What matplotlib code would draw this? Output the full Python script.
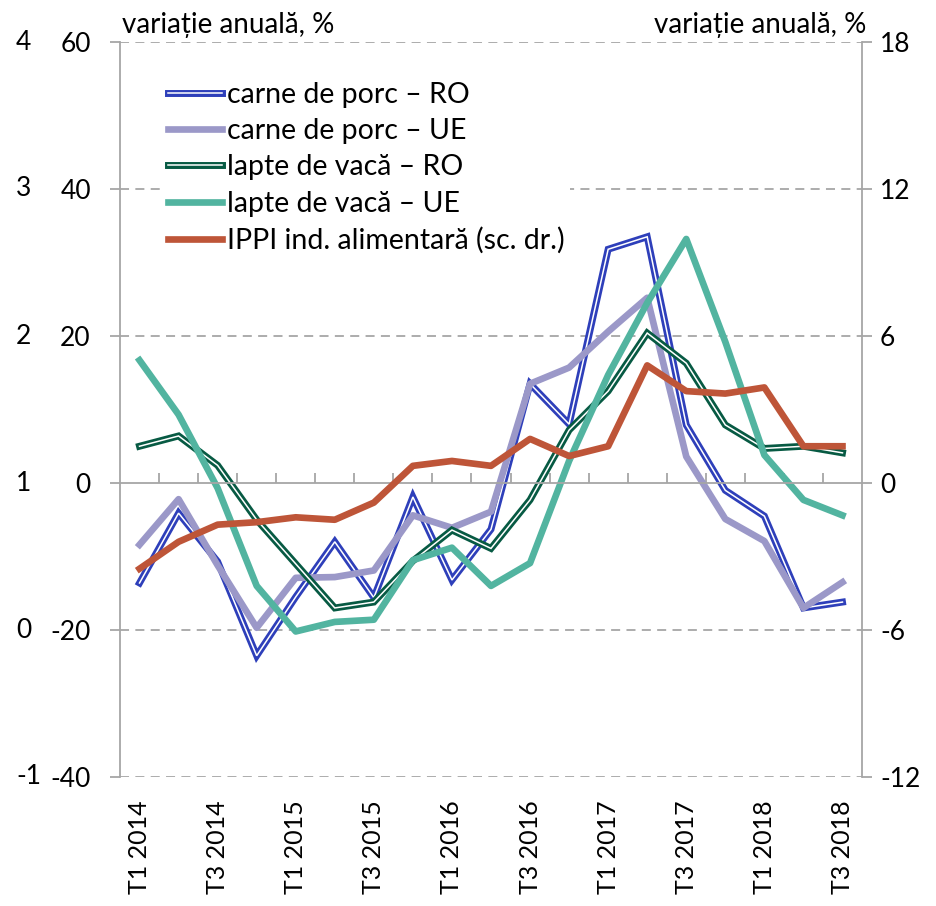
import numpy as np
import matplotlib
matplotlib.use("Agg")
import matplotlib.pyplot as plt
import matplotlib.patheffects as pe
import matplotlib.transforms as mtransforms

plt.rcParams['font.family'] = ['Lato', 'DejaVu Sans']

# Data (variatie anuala, %)
quarters = ['T1 2014', 'T2 2014', 'T3 2014', 'T4 2014',
            'T1 2015', 'T2 2015', 'T3 2015', 'T4 2015',
            'T1 2016', 'T2 2016', 'T3 2016', 'T4 2016',
            'T1 2017', 'T2 2017', 'T3 2017', 'T4 2017',
            'T1 2018', 'T2 2018', 'T3 2018']

porc_ro = [-13.6, -4.1, -10.7, -23.5, -15.5, -8.0, -15.6, -1.9, -13.2, -6.3,
           13.5, 8.0, 31.8, 33.5, 7.9, -1.0, -4.5, -17.0, -16.2]
porc_ue = [-8.4, -2.2, -11.2, -19.7, -12.9, -12.8, -11.9, -4.4, -6.1, -3.9,
           13.5, 15.7, 20.6, 25.2, 3.6, -4.9, -7.9, -17.0, -13.5]
lapte_ro = [5.0, 6.4, 2.4, -5.0, -11.0, -17.0, -16.2, -10.6, -6.4, -8.9,
            -2.3, 7.2, 12.5, 20.4, 16.3, 7.9, 4.7, 5.0, 4.1]
lapte_ue = [16.7, 9.3, -0.7, -14.0, -20.2, -18.9, -18.6, -10.5, -8.8, -14.0,
            -10.9, 3.0, 14.7, 24.5, 33.2, 19.2, 3.8, -2.3, -4.4]
ippi = [-3.5, -2.4, -1.7, -1.6, -1.4, -1.5, -0.8, 0.7, 0.9, 0.7,
        1.8, 1.1, 1.5, 4.8, 3.75, 3.65, 3.9, 1.5, 1.5]

labels = ['carne de porc – RO', 'carne de porc – UE', 'lapte de vacă – RO',
          'lapte de vacă – UE', 'IPPI ind. alimentară (sc. dr.)']
colors = ['#2E3FBA', '#9B98C8', '#075A43', '#52B4A0', '#BE5538']
left_ticks = [-40, -20, 0, 20, 40, 60]
right_ticks = [-12, -6, 0, 6, 12, 18]
phantom_ticks = [-1, 0, 1, 2, 3, 4]

x = np.arange(len(quarters))
grid_col = '#A6A6A6'

fig = plt.figure(figsize=(9.36, 9.06), dpi=100)
ax = fig.add_axes([120/936, 1-777/906, 742/936, 735/906])

# double lines for RO series
dbl = lambda c: [pe.Stroke(linewidth=5.0, foreground=c), pe.Normal()]
l1, = ax.plot(x, porc_ro, color='white', lw=1.1, path_effects=dbl(colors[0]),
              label=labels[0], solid_joinstyle='miter')
l2, = ax.plot(x, porc_ue, color=colors[1], lw=4.8, label=labels[1])
l3, = ax.plot(x, lapte_ro, color='white', lw=1.1, path_effects=dbl(colors[2]),
              label=labels[2], solid_joinstyle='miter')
l4, = ax.plot(x, lapte_ue, color=colors[3], lw=4.8, label=labels[3])

ax.set_xlim(-0.5, len(quarters) - 0.5)
ax.set_ylim(-40, 60)
ax.set_yticks(left_ticks)
ax.set_yticklabels(['-40', '-20', '0', '20', '40', '60'])
for v in left_ticks:
    if v != 0:
        ax.axhline(v, color=grid_col, lw=1.3, ls=(0, (5, 3.5)), zorder=0)

for s in ['top', 'right']:
    ax.spines[s].set_visible(False)
ax.spines['left'].set_color(grid_col)
ax.spines['left'].set_linewidth(1.3)
ax.spines['bottom'].set_position(('data', 0))
ax.spines['bottom'].set_color(grid_col)
ax.spines['bottom'].set_linewidth(1.3)
ax.set_xticks(np.arange(0.5, len(quarters) - 1, 1.0))
ax.tick_params(axis='x', direction='in', length=7, width=1.3, color=grid_col,
               labelbottom=False)
ax.tick_params(axis='y', direction='out', length=7, width=1.3, color=grid_col,
               labelsize=19, pad=14)

# category labels at bottom
sec = ax.secondary_xaxis('bottom')
sec.set_xticks(x[::2])
sec.set_xticklabels(quarters[::2], rotation=90, fontsize=18)
sec.tick_params(length=0, pad=17)
sec.spines['bottom'].set_visible(False)

# right axis
ax2 = ax.twinx()
ax2.set_ylim(-12, 18)
ax2.set_yticks(right_ticks)
ax2.set_yticklabels(['-12', '-6', '0', '6', '12', '18'])
l5, = ax2.plot(x, ippi, color=colors[4], lw=4.8, label=labels[4])
for s in ['top', 'left', 'bottom']:
    ax2.spines[s].set_visible(False)
ax2.spines['right'].set_color(grid_col)
ax2.spines['right'].set_linewidth(1.3)
ax2.tick_params(axis='y', direction='out', length=7, width=1.3, color=grid_col,
                labelsize=19, pad=6)

# extra left scale (0..4)
ax3 = ax.twinx()
ax3.set_ylim(-1, 4)
ax3.set_axis_off()
trans = mtransforms.blended_transform_factory(fig.transFigure, ax3.transData)
for v in phantom_ticks:
    ax3.text(16/936, v, str(v), transform=trans, fontsize=19,
             ha='left', va='center', clip_on=False)

fig.text(122/936, 1-33/906, 'variație anuală, %', fontsize=20, ha='left', va='baseline')
fig.text(866/936, 1-33/906, 'variație anuală, %', fontsize=20, ha='right', va='baseline')

leg = ax2.legend(handles=[l1, l2, l3, l4, l5], loc='upper left',
                 bbox_to_anchor=(148/936, 1-62/906), bbox_transform=fig.transFigure,
                 fontsize=20.5, frameon=True, handlelength=1.9, handletextpad=0.18,
                 labelspacing=0.36, borderpad=0.2)
leg.get_frame().set_edgecolor('none')
leg.get_frame().set_facecolor('white')
leg.get_frame().set_alpha(1)

fig.savefig('out.png', dpi=100)
